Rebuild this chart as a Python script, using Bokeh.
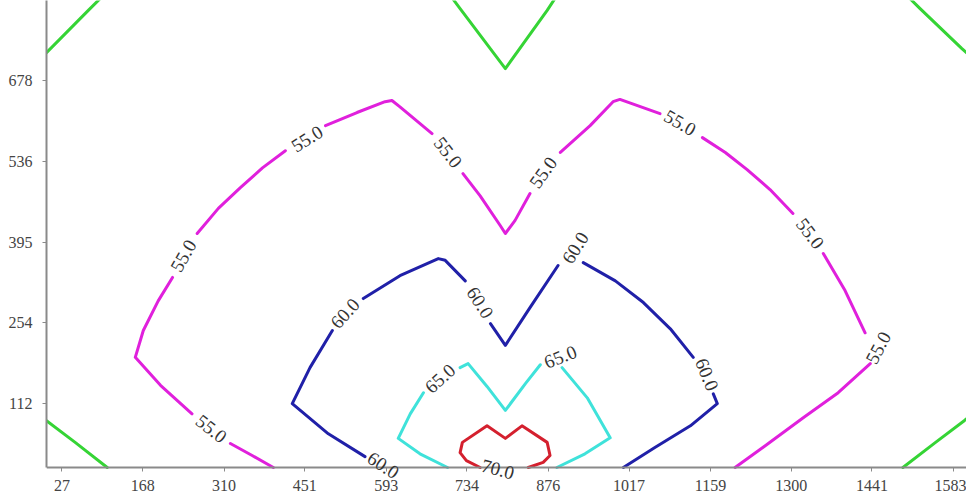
import math
from bokeh.plotting import figure
from bokeh.models import ColumnDataSource, LabelSet, FixedTicker, Range1d
from bokeh.embed import file_html
from bokeh.resources import INLINE

nan = float("nan")

# tick values (as printed)
x_ticks = [27, 168, 310, 451, 593, 734, 876, 1017, 1159, 1300, 1441, 1583]
y_ticks = [112, 254, 395, 536, 678]

# contour level 50 (green) - no labels
c50_x = [0, 73, 99, nan, 705, 722, 801, 874, 891, nan, 1507, 1525, 1598, 1621, nan, 0, 50, 106, nan, 1495, 1552, 1602, 1630]
c50_y = [727, 801, 827, nan, 827, 804, 699, 801, 827, nan, 822, 804, 734, 713, nan, 82, 44, 0, nan, 0, 44, 82, 105]

# contour level 55 (magenta)
c55_x = [396, 359, 321, nan, 254, 199, 155, 169, 195, 220, nan, 263, 300, 338, 377, 417, nan,
         487, 542, 591, 603, 617, 673, nan, 727, 757, 792, 801, 818, 844, nan,
         897, 949, 989, 1001, 1071, nan, 1145, 1185, 1223, 1263, 1303, nan, 1356, 1394, 1429, nan,
         1438, 1382, 1321, 1260, 1202]
c55_y = [0, 21, 42, nan, 94, 144, 193, 240, 292, 333, nan, 410, 454, 490, 525, 555, nan,
         599, 622, 641, 643, 632, 585, nan, 515, 476, 424, 410, 433, 480, nan,
         552, 599, 641, 645, 620, nan, 578, 552, 522, 487, 445, nan, 375, 310, 236, nan,
         182, 131, 87, 42, 0]
l55_x = [288, 239, 455, 701, 867, 1106, 1333, 1452]
l55_y = [68, 371, 576, 552, 517, 604, 410, 210]
l55_a = [-38, 60, 32, -52, 54, -30, -53, 62]

# contour level 60 (blue)
c60_x = [556, 492, 429, 460, 499, nan, 553, 617, 684, 696, 731, nan, 775, 801, 844, 893, nan,
         937, 993, 1042, 1089, 1129, nan, 1164, 1171, 1124, 1062, 1007]
c60_y = [19, 59, 112, 175, 240, nan, 296, 336, 366, 363, 327, nan, 252, 214, 280, 354, nan,
         359, 327, 289, 243, 193, nan, 129, 112, 73, 35, 0]
l60_x = [588, 521, 757, 923, 1153]
l60_y = [4, 270, 289, 385, 163]
l60_a = [-33, 48, -58, 58, -68]

# contour level 65 (cyan)
c65_x = [700, 652, 614, 635, 658, nan, 722, 736, 769, 801, 836, 862, nan, 900, 944, 984, 940, 891]
c65_y = [0, 24, 51, 94, 131, nan, 175, 182, 142, 100, 147, 180, nan, 175, 122, 52, 24, 0]
l65_x = [687, 897]
l65_y = [156, 194]
l65_a = [42, 22]

# contour level 70 (red)
c70_x = [757, 733, 722, 726, 769, 801, 830, 874, 879, 867, 841]
c70_y = [0, 12, 26, 44, 73, 51, 73, 44, 21, 9, 0]
l70_x = [788]
l70_y = [-3]
l70_a = [-15]

levels = [
    (c50_x, c50_y, [], [], [], "#35D435", ""),
    (c55_x, c55_y, l55_x, l55_y, l55_a, "#E020DC", "55.0"),
    (c60_x, c60_y, l60_x, l60_y, l60_a, "#2020A8", "60.0"),
    (c65_x, c65_y, l65_x, l65_y, l65_a, "#3FE2DA", "65.0"),
    (c70_x, c70_y, l70_x, l70_y, l70_a, "#D4202E", "70.0"),
]

p = figure(width=966, height=497, x_range=Range1d(0, 1606), y_range=Range1d(-52.6, 818.3),
           output_backend="svg", toolbar_location=None,
           min_border_left=46, min_border_right=0, min_border_top=0, min_border_bottom=0)
p.background_fill_color = "white"
p.border_fill_color = "white"
p.outline_line_color = None
p.xgrid.visible = False
p.ygrid.visible = False

for ax in (p.xaxis[0], p.yaxis[0]):
    ax.axis_line_color = "#8a8a8a"
    ax.axis_line_width = 2
    ax.major_tick_line_color = "#8a8a8a"
    ax.major_tick_in = 0
    ax.major_tick_out = 4
    ax.minor_tick_line_color = None
    ax.major_label_text_font = "Liberation Serif"
    ax.major_label_text_font_size = "16px"
    ax.major_label_text_color = "#444444"
p.xaxis.ticker = FixedTicker(ticks=x_ticks)
p.yaxis.ticker = FixedTicker(ticks=y_ticks)
p.xaxis.fixed_location = 0
p.xaxis.major_label_standoff = 9
p.yaxis.major_label_standoff = 10
p.yaxis.bounds = (0, 818.3)

for cx, cy, lx, ly, la, col, txt in levels:
    p.line(cx, cy, line_color=col, line_width=3, line_join="round", line_cap="round")
    if lx:
        src = ColumnDataSource(dict(x=lx, y=ly, a=[math.radians(v) for v in la], t=[txt] * len(lx)))
        p.add_layout(LabelSet(x="x", y="y", text="t", angle="a", source=src,
                              text_align="center", text_baseline="middle",
                              text_font="Liberation Serif", text_font_size="19px",
                              text_color="#333333"))

open("out.html", "w").write(file_html(p, INLINE))
